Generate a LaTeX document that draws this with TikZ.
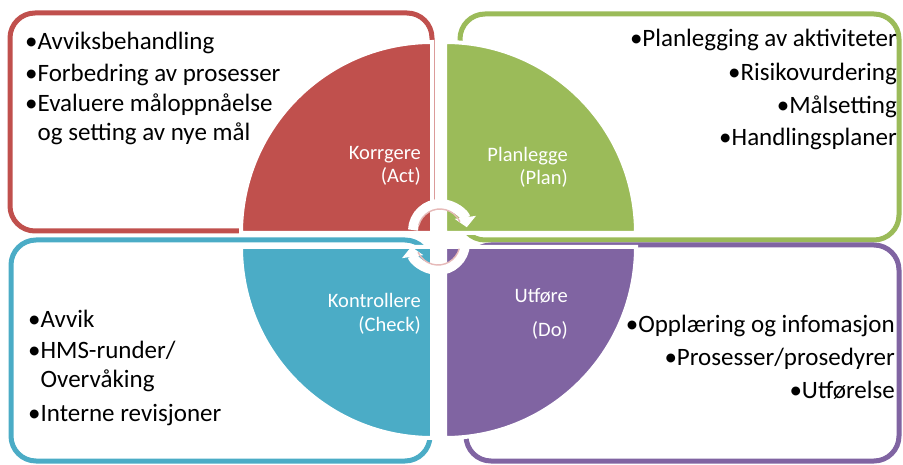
\documentclass[tikz,border=0pt]{standalone}
\usepackage{fontspec}
\setmainfont{Carlito}
\usetikzlibrary{arrows.meta,calc}
\definecolor{cred}{HTML}{C0504D}
\definecolor{cgreen}{HTML}{9BBB59}
\definecolor{cblue}{HTML}{4BACC6}
\definecolor{cpurple}{HTML}{8064A2}
\definecolor{cpink}{HTML}{E6B9B8}
\begin{document}
\begin{tikzpicture}[x=1pt,y=1pt,
  box/.style={line width=5pt, rounded corners=25pt},
  pie/.style={draw=white, line width=4pt},
  item/.style={inner sep=0pt, font=\fontsize{25}{30}\selectfont, text=black},
  lab/.style={inner sep=0pt, font=\fontsize{20.5}{24}\selectfont, text=white},
  cyc/.style={white, line width=10pt, -{Triangle[length=10pt,width=21pt]}},
  cycline/.style={cpink, line width=1.4pt}]
\useasboundingbox (0,0) rectangle (903,464);
% frames
\draw[box, cred] (10,233) rectangle (432,451);
\draw[box, cgreen] (460,224) rectangle (899,450);
\draw[box, cblue] (11,3) rectangle (430,224);
\draw[box, cpurple] (466,3) rectangle (899,219);
% quarter discs
\filldraw[pie, fill=cred] (432,231) -- (241,231) arc[start angle=180, end angle=90, radius=191] -- cycle;
\filldraw[pie, fill=cgreen] (445,231) -- (636,231) arc[start angle=0, end angle=90, radius=191] -- cycle;
\filldraw[pie, fill=cblue] (432,217) -- (432,26) arc[start angle=270, end angle=180, radius=191] -- cycle;
\filldraw[pie, fill=cpurple] (445,217) -- (636,217) arc[start angle=0, end angle=-90, radius=191] -- cycle;
% cycle arrows
\coordinate (cu) at (440,233);
\coordinate (cl) at (438,221);
\draw[cyc] ($(cu)+(178:27)$) arc[start angle=178, end angle=8, radius=27];
\draw[cycline] ($(cu)+(165:22)$) arc[start angle=165, end angle=25, radius=22];
\draw[cyc] ($(cl)+(-2:27)$) arc[start angle=-2, end angle=-172, radius=27];
\draw[cycline] ($(cl)+(-15:22)$) arc[start angle=-15, end angle=-155, radius=22];
% quarter labels
\node[lab, anchor=base east] (act1) at (421,304) {Korrgere};
\node[lab, anchor=base east] (act2) at (421,281) {(Act)};
\node[lab, anchor=base east] (plan1) at (568,302) {Planlegge};
\node[lab, anchor=base east] (plan2) at (568,279) {(Plan)};
\node[lab, anchor=base east] (chk1) at (421,156) {Kontrollere};
\node[lab, anchor=base east] (chk2) at (421,132) {(Check)};
\node[lab, anchor=base east] (do1) at (568,161) {Utføre};
\node[lab, anchor=base east] (do2) at (568,127) {(Do)};
% red items
\node[item, anchor=base west] (r1) at (25,414) {•Avviksbehandling};
\node[item, anchor=base west] (r2) at (25,382) {•Forbedring av prosesser};
\node[item, anchor=base west] (r3) at (25,352) {•Evaluere måloppnåelse};
\node[item, anchor=base west] (r4) at (25,323) {\phantom{•}og setting av nye mål};
% green items
\node[item, anchor=base east] (g1) at (897,417) {•Planlegging av aktiviteter};
\node[item, anchor=base east] (g2) at (897,383) {•Risikovurdering};
\node[item, anchor=base east] (g3) at (897,350) {•Målsetting};
\node[item, anchor=base east] (g4) at (897,318) {•Handlingsplaner};
% blue items
\node[item, anchor=base west] (b1) at (28,136) {•Avvik};
\node[item, anchor=base west] (b2) at (28,106) {•HMS-runder/};
\node[item, anchor=base west] (b3) at (28,77) {\phantom{•}Overvåking};
\node[item, anchor=base west] (b4) at (28,42) {•Interne revisjoner};
% purple items
\node[item, anchor=base east] (p1) at (895,131) {•Opplæring og infomasjon};
\node[item, anchor=base east] (p2) at (895,99) {•Prosesser/prosedyrer};
\node[item, anchor=base east] (p3) at (895,66) {•Utførelse};
\end{tikzpicture}
\end{document}
